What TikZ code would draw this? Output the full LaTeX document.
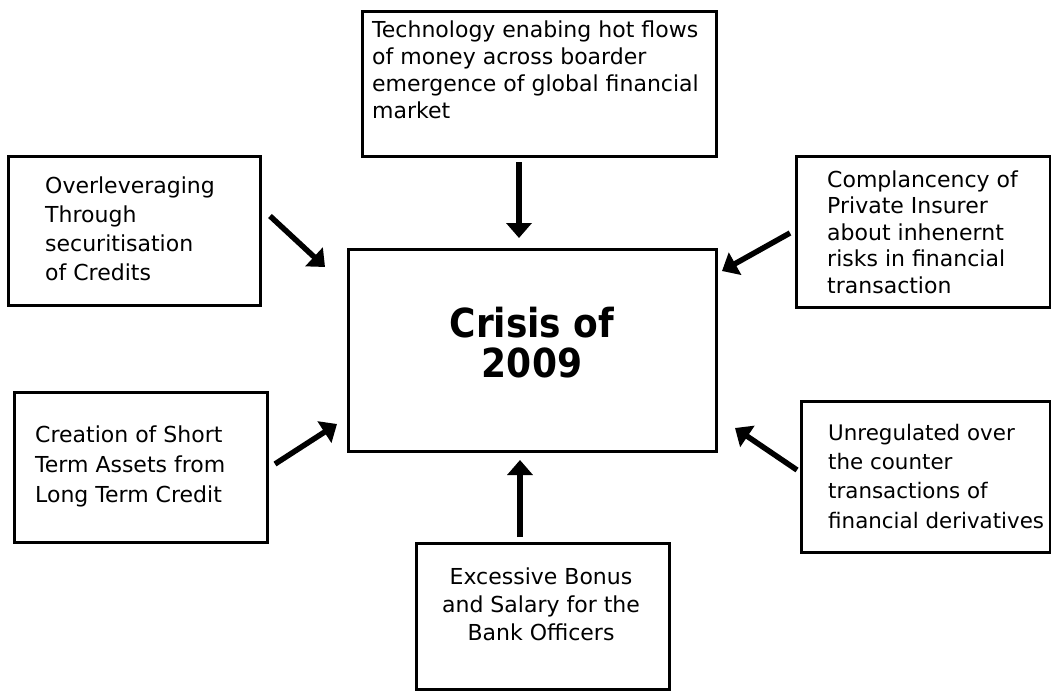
\documentclass[tikz,border=0pt]{standalone}
\usepackage{fontspec}
\setmainfont{DejaVu Sans}
\newfontfamily\titlefont{DejaVu Sans}[FakeStretch=0.9]
\usetikzlibrary{arrows.meta}
\begin{document}
\begin{tikzpicture}[x=1pt,y=-1pt,
  box/.style={draw=black, line width=2.6pt, rectangle, inner sep=0pt, anchor=north west},
  txt/.style={font=\fontsize{22}{28}\selectfont, align=left, inner sep=0pt, anchor=base west},
  arr/.style={line width=5.5pt, -{Triangle[length=15pt,width=25pt]}}]
\useasboundingbox (0,0) rectangle (1051,690);
% boxes
\node[box, minimum width=354pt, minimum height=145pt] (topb) at (361,10) {};
\node[box, minimum width=252pt, minimum height=149pt] (ltb) at (7,155) {};
\node[box, minimum width=368pt, minimum height=202pt] (cen) at (347,248) {};
\node[box, minimum width=254pt, minimum height=151pt] (rtb) at (795,155) {};
\node[box, minimum width=253pt, minimum height=150pt] (lbb) at (13,391) {};
\node[box, minimum width=249pt, minimum height=151pt] (rbb) at (800,400) {};
\node[box, minimum width=253pt, minimum height=146pt] (botb) at (415,542) {};
% texts (anchor is the baseline of the last line)
\node[txt, font=\fontsize{22}{27}\selectfont] (topt) at (372,118) {Technology enabing hot flows\\of money across boarder\\emergence of global financial\\market};
\node[txt, font=\fontsize{22}{29}\selectfont] (ltt) at (45,280) {Overleveraging\\Through\\securitisation\\of Credits};
\node[txt, font=\fontsize{22}{26.5}\selectfont] (rtt) at (827,293) {Complancency of\\Private Insurer\\about inhenernt\\risks in financial\\transaction};
\node[txt, font=\fontsize{22}{30}\selectfont] (lbt) at (35,502) {Creation of Short\\Term Assets from\\Long Term Credit};
\node[txt, font=\fontsize{21.4}{29.3}\selectfont] (rbt) at (828,528) {Unregulated over\\the counter\\transactions of\\financial derivatives};
\node[txt, align=center, anchor=base] (bott) at (541,640) {Excessive Bonus\\and Salary for the\\Bank Officers};
\node[font=\titlefont\bfseries\fontsize{40}{40}\selectfont, align=center, inner sep=0pt, anchor=base] (title) at (532,377) {Crisis of\\2009};
% arrows
\coordinate (a1s) at (519,162); \coordinate (a1e) at (519,238);
\coordinate (a2s) at (270,216); \coordinate (a2e) at (325,267);
\coordinate (a3s) at (790,233); \coordinate (a3e) at (722,271);
\coordinate (a4s) at (275,464); \coordinate (a4e) at (337,424);
\coordinate (a5s) at (797,470); \coordinate (a5e) at (735,428);
\coordinate (a6s) at (520,537); \coordinate (a6e) at (520,460);
\draw[arr] (a1s) -- (a1e);
\draw[arr] (a2s) -- (a2e);
\draw[arr] (a3s) -- (a3e);
\draw[arr] (a4s) -- (a4e);
\draw[arr] (a5s) -- (a5e);
\draw[arr] (a6s) -- (a6e);
\end{tikzpicture}
\end{document}
